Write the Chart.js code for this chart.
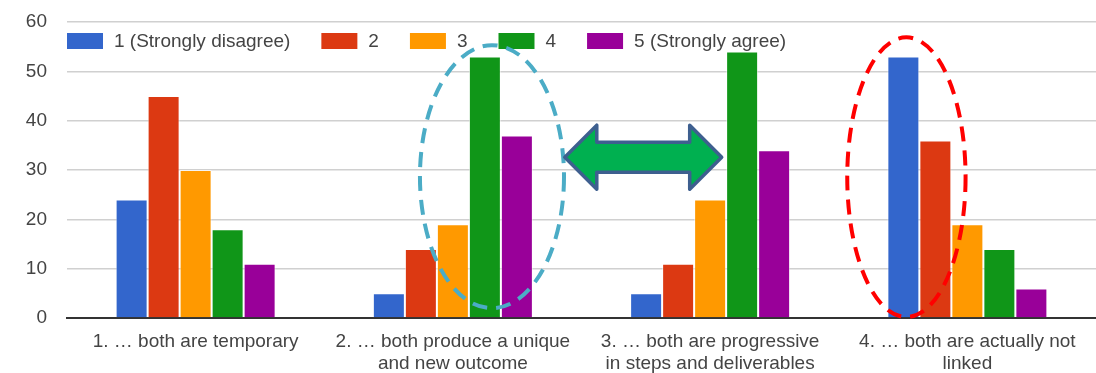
<!DOCTYPE html>
<html>
<head>
<meta charset="utf-8">
<script src="https://cdn.jsdelivr.net/npm/chart.js@4.4.1/dist/chart.umd.min.js"></script>
<style>
  html, body { margin: 0; padding: 0; background: #fff; }
  #wrap { width: 1096px; height: 373px; position: relative; }
</style>
</head>
<body>
<div id="wrap"><canvas id="c"></canvas></div>
<script>
// Survey statements (x categories), multi-line labels
const categories = [
  ['1. \u2026 both are temporary'],
  ['2. \u2026 both produce a unique', 'and new outcome'],
  ['3. \u2026 both are progressive', 'in steps and deliverables'],
  ['4. \u2026 both are actually not', 'linked']
];

// Response scale
const seriesNames = ['1 (Strongly disagree)', '2', '3', '4', '5 (Strongly agree)'];
const seriesColors = ['#3366cc', '#dc3912', '#ff9900', '#109618', '#990099'];

// Counts per answer, one array per response level
const stronglyDisagree = [24, 5, 5, 53];
const level2 = [45, 14, 11, 36];
const level3 = [30, 19, 24, 19];
const level4 = [18, 53, 54, 14];
const stronglyAgree = [11, 37, 34, 6];

const yTicks = [0, 10, 20, 30, 40, 50, 60];

const FONT = '"Liberation Sans", Arial, sans-serif';
const TEXT = '#444';

const seriesValues = [stronglyDisagree, level2, level3, level4, stronglyAgree];

// Legend drawn inside the plot area, left aligned
const insideLegend = {
  id: 'insideLegend',
  afterDatasetsDraw(chart) {
    const ctx = chart.ctx;
    const area = chart.chartArea;
    ctx.save();
    ctx.font = '19px ' + FONT;
    ctx.textBaseline = 'middle';
    ctx.textAlign = 'left';
    let x = area.left;
    const yMid = area.top + 19;
    chart.data.datasets.forEach(ds => {
      ctx.fillStyle = ds.backgroundColor;
      ctx.fillRect(x, yMid - 8, 36, 16);
      x += 36 + 11;
      ctx.fillStyle = TEXT;
      ctx.fillText(ds.label, x, yMid + 1);
      x += ctx.measureText(ds.label).width + 31;
    });
    ctx.restore();
  }
};

// Highlight shapes: dashed ellipses and a double-headed arrow
const highlights = {
  id: 'highlights',
  afterDraw(chart) {
    const ctx = chart.ctx;
    const xs = chart.scales.x, ys = chart.scales.y;
    const catW = xs.getPixelForValue(1) - xs.getPixelForValue(0);
    ctx.save();
    ctx.lineWidth = 4;
    ctx.setLineDash([15, 9]);

    // around "4" and "5" of statement 2
    const bx = xs.getPixelForValue(1) + 0.152 * catW;
    const byTop = ys.getPixelForValue(55.3), byBot = ys.getPixelForValue(2);
    ctx.strokeStyle = '#4bacc6';
    ctx.beginPath();
    ctx.ellipse(bx, (byTop + byBot) / 2, 0.28 * catW, (byBot - byTop) / 2, 0, 0, Math.PI * 2);
    ctx.stroke();

    // around "1" and "2" of statement 4
    const rx = xs.getPixelForValue(3) - 0.237 * catW;
    const ryTop = ys.getPixelForValue(56.9), ryBot = ys.getPixelForValue(0.2);
    ctx.strokeStyle = '#ff0000';
    ctx.beginPath();
    ctx.ellipse(rx, (ryTop + ryBot) / 2, 0.23 * catW, (ryBot - ryTop) / 2, 0, 0, Math.PI * 2);
    ctx.stroke();

    // arrow linking statements 2 and 3
    ctx.setLineDash([]);
    const left = xs.getPixelForValue(1) + 0.435 * catW;
    const right = xs.getPixelForValue(2) + 0.045 * catW;
    const cy = ys.getPixelForValue(32.6);
    const headH = 32, shaftH = 15, headL = 32;
    ctx.beginPath();
    ctx.moveTo(left, cy);
    ctx.lineTo(left + headL, cy - headH);
    ctx.lineTo(left + headL, cy - shaftH);
    ctx.lineTo(right - headL, cy - shaftH);
    ctx.lineTo(right - headL, cy - headH);
    ctx.lineTo(right, cy);
    ctx.lineTo(right - headL, cy + headH);
    ctx.lineTo(right - headL, cy + shaftH);
    ctx.lineTo(left + headL, cy + shaftH);
    ctx.lineTo(left + headL, cy + headH);
    ctx.closePath();
    ctx.fillStyle = '#00b050';
    ctx.fill();
    ctx.lineWidth = 3.5;
    ctx.lineJoin = 'round';
    ctx.strokeStyle = '#3e5f8f';
    ctx.stroke();
    ctx.restore();
  }
};

new Chart(document.getElementById('c'), {
  type: 'bar',
  data: {
    labels: categories,
    datasets: seriesNames.map((name, i) => ({
      label: name,
      data: seriesValues[i],
      backgroundColor: seriesColors[i],
      borderColor: 'rgba(255,255,255,0.55)',
      borderWidth: 1,
      categoryPercentage: 0.622,
      barPercentage: 1
    }))
  },
  options: {
    responsive: true,
    maintainAspectRatio: false,
    animation: false,
    layout: { padding: { top: 22, right: 0, left: 0, bottom: 0 } },
    plugins: { legend: { display: false }, tooltip: { enabled: false } },
    scales: {
      x: {
        grid: { display: false },
        border: { display: true, color: '#333', width: 2 },
        ticks: {
          color: TEXT,
          font: { family: FONT, size: 19, lineHeight: 1.2 },
          padding: 4,
          maxRotation: 0,
          autoSkip: false
        },
        afterFit(scale) { scale.height = 55; }
      },
      y: {
        min: 0,
        max: 60,
        afterBuildTicks(scale) { scale.ticks = yTicks.map(v => ({ value: v })); },
        grid: { color: '#d0d0d0', lineWidth: 1.5, drawTicks: false },
        border: { display: false },
        ticks: {
          color: TEXT,
          font: { family: FONT, size: 19 },
          padding: 20
        },
        afterFit(scale) { scale.width = 67; scale.paddingTop = 0; }
      }
    }
  },
  plugins: [insideLegend, highlights]
});
</script>
</body>
</html>
